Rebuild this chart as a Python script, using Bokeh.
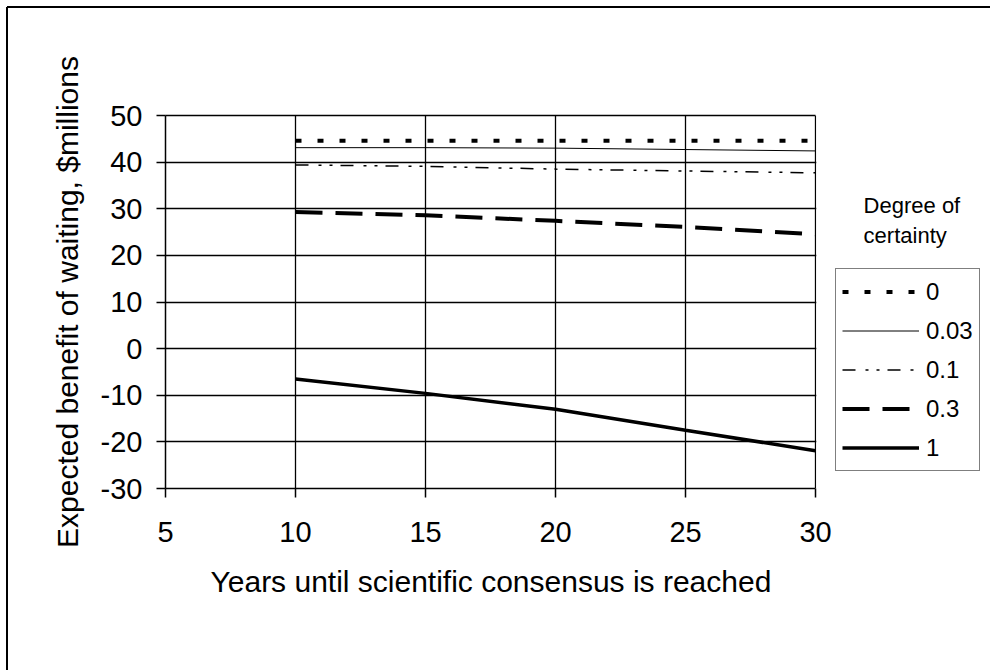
from bokeh.plotting import figure
from bokeh.models import Range1d, FixedTicker, Legend, LegendItem, Label, Title, LinearAxis
from bokeh.embed import file_html
from bokeh.resources import INLINE

# ---- data ----
years = [10, 15, 20, 25, 30]
certainty_labels = ["0", "0.03", "0.1", "0.3", "1"]
benefit_0 = [44.6, 44.6, 44.6, 44.6, 44.6]
benefit_003 = [43.1, 43.1, 43.0, 42.7, 42.4]
benefit_01 = [39.4, 39.1, 38.5, 38.1, 37.7]
benefit_03 = [29.3, 28.6, 27.4, 26.1, 24.5]
benefit_1 = [-6.5, -9.6, -13.0, -17.5, -21.9]
x_ticks = [5, 10, 15, 20, 25, 30]
y_ticks = [-30, -20, -10, 0, 10, 20, 30, 40, 50]

x_title = "Years until scientific consensus is reached"
y_title = "Expected benefit of waiting, $millions"
legend_heading = ["Degree of", "certainty"]

FONT = "Liberation Sans"
X_MIN, X_MAX = x_ticks[0], x_ticks[-1]
Y_MIN, Y_MAX = y_ticks[0], y_ticks[-1]
X_END = 36.73   # frame extends right to hold the legend

# outer chart border (top and left edges) drawn behind the transparent canvas border
border_css = ("linear-gradient(#000,#000) 7px 6px / 100% 2px no-repeat, "
              "linear-gradient(#000,#000) 6px 7px / 2px 100% no-repeat, #fff")

p = figure(width=990, height=670, output_backend="svg", toolbar_location=None,
           x_range=Range1d(X_MIN, X_END), y_range=Range1d(Y_MIN, Y_MAX),
           min_border_left=165, min_border_right=0,
           min_border_top=115, min_border_bottom=182,
           styles={"background": border_css})
p.background_fill_color = "white"
p.border_fill_alpha = 0
p.outline_line_color = None

for ax in (p.xaxis[0], p.yaxis[0]):
    ax.axis_line_color = "black"
    ax.axis_line_width = 1.5
    ax.major_tick_line_color = "black"
    ax.major_tick_line_width = 1.5
    ax.major_tick_out = 9
    ax.major_tick_in = 0
    ax.minor_tick_line_color = None
    ax.major_label_text_font = FONT
    ax.major_label_text_font_size = "29px"
    ax.major_label_text_color = "black"
    ax.axis_label_text_font = FONT
    ax.axis_label_text_font_size = "30px"
    ax.axis_label_text_font_style = "normal"
    ax.axis_label_text_color = "black"

p.xaxis[0].ticker = FixedTicker(ticks=x_ticks)
p.yaxis[0].ticker = FixedTicker(ticks=y_ticks)
p.xaxis[0].bounds = (X_MIN, X_MAX)
p.yaxis[0].bounds = (Y_MIN, Y_MAX)
p.yaxis[0].major_label_overrides = {t: str(t) for t in y_ticks}
p.xaxis[0].major_label_standoff = 24
p.yaxis[0].major_label_standoff = 14
p.yaxis[0].axis_label = y_title
p.yaxis[0].axis_label_standoff = 14

# top edge of the plot area (5..30)
top_edge = LinearAxis(bounds=(X_MIN, X_MAX), ticker=FixedTicker(ticks=[]),
                      axis_line_color="black", axis_line_width=1.5,
                      major_tick_line_color=None, minor_tick_line_color=None,
                      major_label_text_font_size="0px")
p.add_layout(top_edge, "above")

# x axis title, centred under the 5..30 plot area
p.add_layout(Title(text=x_title, align="left", offset=45, vertical_align="top",
                   standoff=40, text_font=FONT, text_font_size="30px",
                   text_font_style="normal", text_color="black"), "below")

for g in (p.xgrid[0], p.ygrid[0]):
    g.grid_line_color = "black"
    g.grid_line_width = 1.3
    g.grid_line_alpha = 1.0

# white mask over the grid beyond the last x tick (legend area)
p.quad(left=[X_MAX + 0.03], right=[X_END + 1], bottom=[Y_MIN - 1], top=[Y_MAX + 1],
       fill_color="white", fill_alpha=1.0, line_color=None)

styles = [
    (benefit_0, 4, "6 16"),
    (benefit_003, 1, "solid"),
    (benefit_01, 1.5, "13 10 3 8 3 8"),
    (benefit_03, 4, "27 13"),
    (benefit_1, 3.5, "solid"),
]
items = []
for lbl, (vals, w, dash) in zip(certainty_labels, styles):
    r = p.line(years, vals, line_color="black", line_width=w, line_dash=dash)
    items.append(LegendItem(label=lbl, renderers=[r]))

legend = Legend(items=items, location=(670, 17), orientation="vertical",
                border_line_color="black", border_line_width=1.5,
                background_fill_color="white", background_fill_alpha=1,
                label_text_font=FONT, label_text_font_size="24px",
                label_text_color="black",
                glyph_width=77, glyph_height=33, spacing=6, padding=6,
                label_standoff=7, margin=0)
p.add_layout(legend)

for txt, yv in zip(legend_heading, [30.75, 24.3]):
    p.add_layout(Label(x=31.85, y=yv, text=txt, text_align="left",
                       text_baseline="middle", text_font=FONT, text_font_size="22px",
                       text_color="black"))

open("out.html", "w").write(file_html(p, INLINE))
